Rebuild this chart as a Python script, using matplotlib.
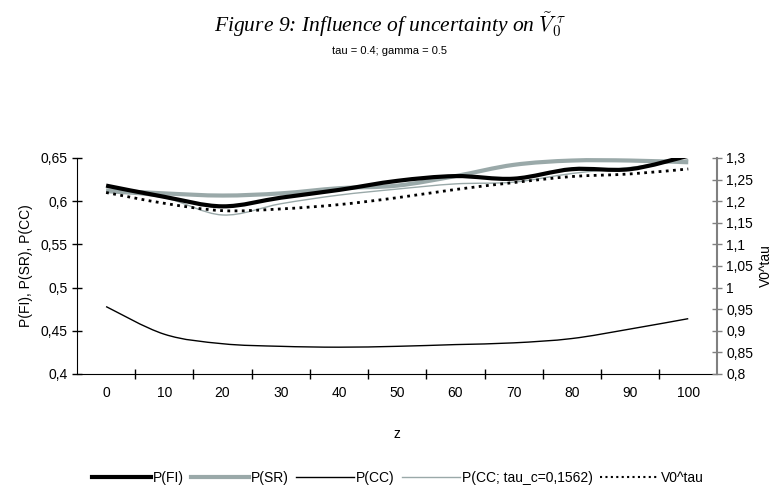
"""Figure 9: influence of uncertainty on V0^tau (Excel-style smoothed lines)."""
import matplotlib
matplotlib.use("Agg")
import matplotlib.pyplot as plt
import numpy as np
from matplotlib.lines import Line2D
from matplotlib.patches import PathPatch
from matplotlib.path import Path
from matplotlib.ticker import FixedLocator, FuncFormatter

plt.rcParams["font.family"] = ["Liberation Sans", "DejaVu Sans"]
plt.rcParams["mathtext.fontset"] = "cm"

# ----- data ----------------------------------------------------------------
z_labels = [0, 10, 20, 30, 40, 50, 60, 70, 80, 90, 100]
p_fi = [0.618, 0.605, 0.594, 0.604, 0.613, 0.6235, 0.629, 0.626, 0.637, 0.637, 0.6525]
p_sr = [0.6125, 0.609, 0.6065, 0.609, 0.615, 0.618, 0.629, 0.642, 0.647, 0.647, 0.645]
p_cc = [0.478, 0.446, 0.435, 0.432, 0.431, 0.432, 0.434, 0.436, 0.441, 0.452, 0.464]
p_cc_tauc = [0.610, 0.604, 0.584, 0.597, 0.607, 0.614, 0.620, 0.622, 0.632, 0.639, 0.648]
v0_tau = [1.220, 1.195, 1.178, 1.182, 1.192, 1.208, 1.227, 1.243, 1.257, 1.263, 1.2745]

GRAY = "#9aa9a9"


def smooth_path(x, y):
    """Excel-like smoothed line as cubic Bezier segments through the points."""
    pts = np.column_stack([x, y]).astype(float)
    ext = np.vstack([pts[0], pts, pts[-1]])
    verts = [pts[0]]
    codes = [Path.MOVETO]
    for i in range(len(pts) - 1):
        p0, p1, p2, p3 = ext[i], ext[i + 1], ext[i + 2], ext[i + 3]
        verts += [p1 + (p2 - p0) / 6, p2 - (p3 - p1) / 6, p2]
        codes += [Path.CURVE4] * 3
    return Path(verts, codes)


def add_curve(ax, y, **kw):
    x = np.arange(len(y))
    ax.add_patch(PathPatch(smooth_path(x, y), fill=False, **kw))


fig = plt.figure(figsize=(7.8, 5.04), dpi=100)
ax = fig.add_axes([0.0987, 0.258, 0.821, 0.4286])
ax2 = ax.twinx()

add_curve(ax, p_cc, edgecolor="black", lw=1.0, zorder=3)
add_curve(ax, p_cc_tauc, edgecolor=GRAY, lw=1.0, zorder=3)
add_curve(ax, p_sr, edgecolor=GRAY, lw=3.0, zorder=4)
add_curve(ax, p_fi, edgecolor="black", lw=3.0, zorder=5)
add_curve(ax2, v0_tau, edgecolor="black", lw=2.0, linestyle=(0, (1, 1.6)),
          capstyle="butt", zorder=6)

n = len(z_labels)
ax.set_xlim(-0.5, n - 0.5)
ax.set_ylim(0.4, 0.65)
ax2.set_ylim(0.8, 1.3)

comma = FuncFormatter(lambda v, _: f"{v:g}".replace(".", ","))
ax.set_yticks(np.arange(0.4, 0.651, 0.05))
ax.yaxis.set_major_formatter(comma)
ax2.set_yticks(np.arange(0.8, 1.301, 0.05))
ax2.yaxis.set_major_formatter(comma)

ax.set_xticks(range(n))
ax.set_xticklabels([str(v) for v in z_labels])
ax.xaxis.set_minor_locator(FixedLocator(np.arange(0.5, n - 0.5, 1.0)))
ax.tick_params(axis="x", which="major", length=0, pad=9, labelsize=10)
ax.tick_params(axis="x", which="minor", direction="inout", length=7, width=1)
ax.tick_params(axis="y", direction="inout", length=7, width=1, labelsize=10, pad=3)
ax2.tick_params(axis="y", direction="inout", length=7, width=1, labelsize=10,
                pad=3, color="gray")

ax.spines["top"].set_visible(False)
ax2.spines["top"].set_visible(False)
ax2.spines["left"].set_visible(False)
ax2.spines["bottom"].set_visible(False)
ax.spines["right"].set_visible(False)
ax2.spines["right"].set_color("gray")
ax2.spines["right"].set_linewidth(1.5)

ax.set_xlabel("z", fontsize=10, labelpad=19)
ax.set_ylabel("P(FI), P(SR), P(CC)", fontsize=10, labelpad=6)
ax2.set_ylabel("V0^tau", fontsize=10, labelpad=4)

fig.text(0.5, 0.951,
         r"Figure 9: Influence of uncertainty on $\tilde{V}_0^{\ \tau}$",
         ha="center", va="center", fontsize=15.5, family="Liberation Serif",
         style="italic")
fig.text(0.5, 0.899, "tau = 0.4; gamma = 0.5", ha="center", va="center", fontsize=8)

handles = [
    Line2D([], [], color="black", lw=3.0),
    Line2D([], [], color=GRAY, lw=3.0),
    Line2D([], [], color="black", lw=1.0),
    Line2D([], [], color=GRAY, lw=1.0),
    Line2D([], [], color="black", lw=1.5, linestyle=(0, (1, 1.6))),
]
labels = ["P(FI)", "P(SR)", "P(CC)", "P(CC; tau_c=0,1562)", "V0^tau"]
fig.legend(handles, labels, loc="center", bbox_to_anchor=(0.51, 0.052), ncol=5,
           frameon=False, fontsize=10, handlelength=4.2, handletextpad=0.15,
           columnspacing=0.5)

fig.savefig("out.png", dpi=100)
